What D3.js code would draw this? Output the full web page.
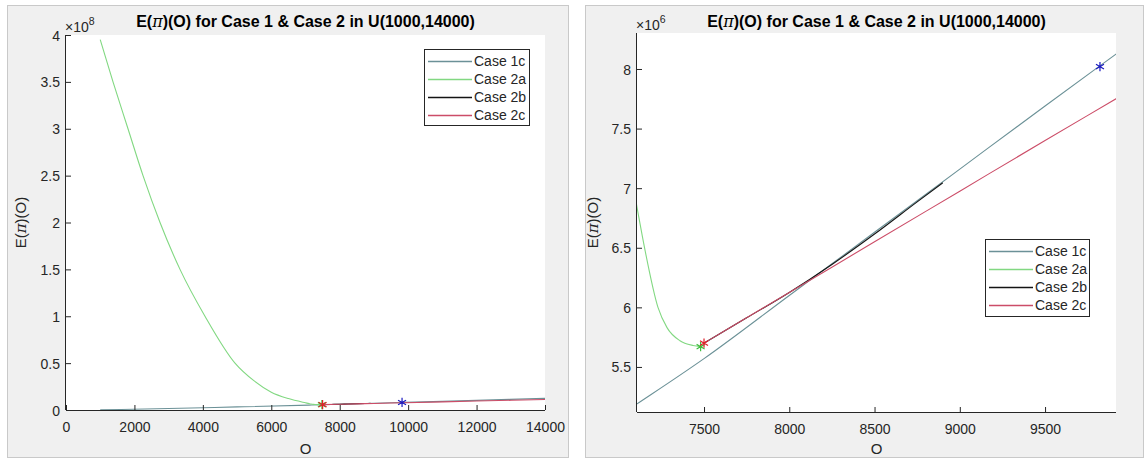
<!DOCTYPE html>
<html>
<head>
<meta charset="utf-8">
<script src="https://cdn.jsdelivr.net/npm/d3@7"></script>
<style>
  html, body { margin: 0; padding: 0; background: #ffffff; }
  svg { display: block; font-family: "Liberation Sans", Arial, Helvetica, sans-serif; }
</style>
</head>
<body>
<svg id="chart" width="1148" height="459"></svg>
<script>
// ---------------- DATA ----------------
const seriesNames = ["Case 1c", "Case 2a", "Case 2b", "Case 2c"];

// Case 1c
const case1cO = [1000, 3000, 5000, 7107, 7500, 8000, 8500, 9000, 9500, 9916, 12000, 14000];
const case1cV = [0.2e6, 1.6e6, 3.3e6, 5.19e6, 5.57e6, 6.10e6, 6.63e6, 7.16e6, 7.69e6, 8.125e6, 10.3e6, 12.4e6];

// Case 2a
const case2aO = [1000, 1374, 1812, 2251, 2748, 3332, 4062, 4939, 5500, 6000, 6500, 7000, 7107, 7154, 7230, 7283, 7359, 7436, 7480];
const case2aV = [395e6, 350e6, 300e6, 250e6, 200e6, 150e6, 100e6, 50e6, 31e6, 19e6, 12.2e6, 7.7e6, 6.84e6, 6.48e6, 6.0e6, 5.83e6, 5.72e6, 5.68e6, 5.67e6];

// Case 2b
const case2bO = [7500, 7750, 8000, 8250, 8500, 8750, 8900];
const case2bV = [5.70e6, 5.912e6, 6.125e6, 6.36e6, 6.615e6, 6.885e6, 7.045e6];

// Case 2c
const case2cO = [7500, 8000, 8500, 9000, 9500, 9916, 12000, 14000];
const case2cV = [5.70e6, 6.125e6, 6.55e6, 6.975e6, 7.40e6, 7.75e6, 9.52e6, 11.21e6];

// Optimal points (asterisk markers)
const starO = [7480, 7500, 9822];
const starV = [5.67e6, 5.70e6, 8.02e6];

// Tick values
const leftXTicks = [0, 2000, 4000, 6000, 8000, 10000, 12000, 14000];
const leftYTicks = [0, 0.5e8, 1e8, 1.5e8, 2e8, 2.5e8, 3e8, 3.5e8, 4e8];
const rightXTicks = [7500, 8000, 8500, 9000, 9500];
const rightYTicks = [5.5e6, 6e6, 6.5e6, 7e6, 7.5e6, 8e6];

const titleMain = "E(";
const titleRest = ")(O) for Case 1 & Case 2 in U(1000,14000)";

// ---------------- STYLE ----------------
const colors = ["#6b9197", "#82d882", "#141414", "#cc4d68"];
const starColors = ["#3fbf3f", "#e0202a", "#1a1ac0"];
const axisColor = "#262626";
const FS = 14;

const svg = d3.select("#chart");

function makeSeries(os, vs) { return os.map((o, i) => ({ o: o, v: vs[i] })); }
const series = [
  makeSeries(case1cO, case1cV),
  makeSeries(case2aO, case2aV),
  makeSeries(case2bO, case2bV),
  makeSeries(case2cO, case2cV)
];
const stars = starO.map((o, i) => ({ o: o, v: starV[i], c: starColors[i] }));

function drawPanel(cfg) {
  svg.append("rect")
    .attr("x", cfg.frame[0] + 0.5).attr("y", cfg.frame[1] + 0.5)
    .attr("width", cfg.frame[2]).attr("height", cfg.frame[3])
    .attr("fill", "#f0f0f0").attr("stroke", "#c9c9c9");

  const x = d3.scaleLinear().domain(cfg.xDomain).range([cfg.left, cfg.right]);
  const y = d3.scaleLinear().domain(cfg.yDomain).range([cfg.bottom, cfg.top]);

  svg.append("rect")
    .attr("x", cfg.left).attr("y", cfg.top)
    .attr("width", cfg.right - cfg.left).attr("height", cfg.bottom - cfg.top)
    .attr("fill", "#ffffff");

  const clipId = "clip" + cfg.id;
  svg.append("clipPath").attr("id", clipId)
    .append("rect")
    .attr("x", cfg.left).attr("y", cfg.top)
    .attr("width", cfg.right - cfg.left).attr("height", cfg.bottom - cfg.top);

  const g = svg.append("g").attr("clip-path", `url(#${clipId})`);
  const line = d3.line().x(d => x(d.o)).y(d => y(d.v)).curve(d3.curveMonotoneX);
  series.forEach((s, i) => {
    g.append("path").datum(s)
      .attr("d", line)
      .attr("fill", "none")
      .attr("stroke", colors[i])
      .attr("stroke-width", 1.1);
  });

  const sym = d3.symbol().type(d3.symbolAsterisk).size(cfg.starSize);
  g.selectAll(".star").data(stars).join("path")
    .attr("transform", d => `translate(${x(d.o)},${y(d.v)})`)
    .attr("d", sym)
    .attr("fill", "none")
    .attr("stroke", d => d.c)
    .attr("stroke-width", 1.2);

  const xAxis = d3.axisBottom(x).tickValues(cfg.xTicks).tickSizeInner(-5).tickSizeOuter(0)
    .tickFormat(d3.format("d"));
  const gx = svg.append("g").attr("transform", `translate(0,${cfg.bottom})`).call(xAxis);
  gx.select(".domain").attr("stroke", axisColor).attr("d", `M${cfg.left},0.5H${cfg.right}`);
  gx.selectAll(".tick line").attr("stroke", axisColor);
  gx.selectAll(".tick text").attr("fill", axisColor).attr("font-size", FS)
    .attr("font-family", "Liberation Sans, Arial, sans-serif").attr("dy", "0").attr("y", 22);

  const yAxis = d3.axisLeft(y).tickValues(cfg.yTicks).tickSizeInner(-5).tickSizeOuter(0)
    .tickFormat(d => { const v = d / cfg.scale; return String(+v.toFixed(2)); });
  const gy = svg.append("g").attr("transform", `translate(${cfg.left},0)`).call(yAxis);
  gy.select(".domain").attr("stroke", axisColor).attr("d", `M-0.5,${cfg.top}V${cfg.bottom}`);
  gy.selectAll(".tick line").attr("stroke", axisColor);
  gy.selectAll(".tick text").attr("fill", axisColor).attr("font-size", FS)
    .attr("font-family", "Liberation Sans, Arial, sans-serif").attr("x", -6).attr("dy", "0.36em");

  const ex = svg.append("text").attr("x", cfg.left - 1).attr("y", cfg.top - 3)
    .attr("fill", axisColor).attr("font-size", FS);
  ex.append("tspan").text("\u00d710");
  ex.append("tspan").attr("dy", -7).attr("font-size", 10.5).text(cfg.expText);

  const cx = (cfg.left + cfg.right) / 2;
  const t = svg.append("text").attr("x", cx).attr("y", 27).attr("text-anchor", "middle")
    .attr("font-size", 16).attr("font-weight", "bold").attr("fill", "#000");
  t.append("tspan").text(titleMain);
  t.append("tspan").attr("font-style", "italic").attr("font-weight", "normal")
    .attr("font-family", "DejaVu Serif, Liberation Serif, serif").text("\u03c0");
  t.append("tspan").text(titleRest);

  svg.append("text").attr("x", cx).attr("y", 454).attr("text-anchor", "middle")
    .attr("font-size", 15).attr("fill", axisColor).text("O");

  const yl = svg.append("text")
    .attr("transform", `translate(${cfg.yLabelX},${(cfg.top + cfg.bottom) / 2}) rotate(-90)`)
    .attr("text-anchor", "middle").attr("font-size", 15).attr("fill", axisColor);
  yl.append("tspan").text("E(");
  yl.append("tspan").attr("font-style", "italic")
    .attr("font-family", "DejaVu Serif, Liberation Serif, serif").text("\u03c0");
  yl.append("tspan").text(")(O)");

  const L = cfg.legend;
  svg.append("rect").attr("x", L.x + 0.5).attr("y", L.y + 0.5)
    .attr("width", L.w).attr("height", L.h)
    .attr("fill", "#ffffff").attr("stroke", axisColor).attr("stroke-width", 1);
  seriesNames.forEach((name, i) => {
    const yy = L.y + 12.5 + i * 18;
    svg.append("line").attr("x1", L.x + 4).attr("x2", L.x + 48)
      .attr("y1", yy).attr("y2", yy)
      .attr("stroke", colors[i]).attr("stroke-width", 1.3);
    svg.append("text").attr("x", L.x + 50).attr("y", yy).attr("dy", "0.35em")
      .attr("font-size", FS).attr("fill", axisColor).text(name);
  });
}

drawPanel({
  id: "L",
  frame: [7, 5, 561, 452],
  left: 66, right: 545, top: 35, bottom: 410,
  xDomain: [0, 14000], yDomain: [0, 4e8],
  xTicks: leftXTicks, yTicks: leftYTicks, scale: 1e8, expText: "8",
  yLabelX: 26, starSize: 60,
  legend: { x: 424, y: 49, w: 105, h: 76 }
});

drawPanel({
  id: "R",
  frame: [585, 5, 558, 452],
  left: 637, right: 1116, top: 33, bottom: 412,
  xDomain: [7107, 9916], yDomain: [5.122e6, 8.302e6],
  xTicks: rightXTicks, yTicks: rightYTicks, scale: 1e6, expText: "6",
  yLabelX: 598, starSize: 60,
  legend: { x: 985, y: 239, w: 104, h: 77 }
});
</script>
</body>
</html>
